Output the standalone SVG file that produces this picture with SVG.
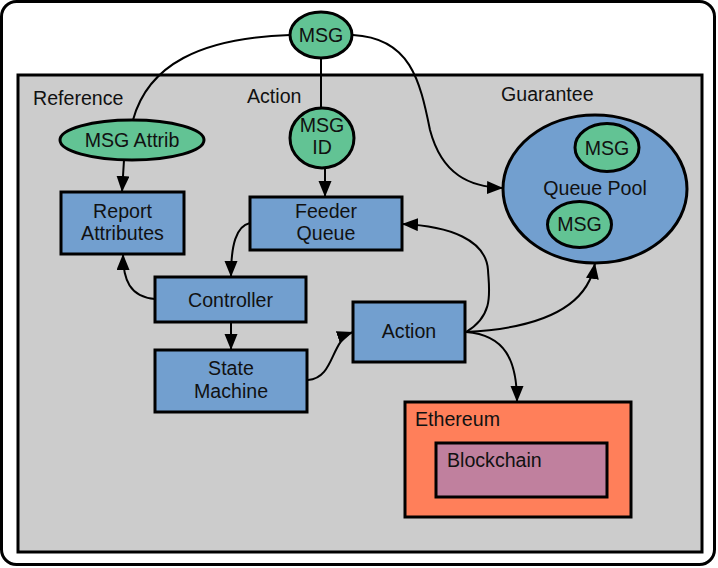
<svg xmlns="http://www.w3.org/2000/svg" width="718" height="568" viewBox="0 0 718 568">
  <defs>
    <marker id="arrow" markerUnits="userSpaceOnUse" markerWidth="18" markerHeight="14" refX="16" refY="6.5" orient="auto">
      <path d="M0,0 L16,6.5 L0,13 Z" fill="#000"/>
    </marker>
    <style>
      text { font-family: "Liberation Sans", Arial, sans-serif; font-size: 19.6px; fill: #111; }
      .mid { text-anchor: middle; }
      .box { fill: #729fcf; stroke: #000; stroke-width: 3; }
      .msg { fill: #62c394; stroke: #000; stroke-width: 3; }
      .edge { fill: none; stroke: #000; stroke-width: 2; }
      .arr { marker-end: url(#arrow); }
    </style>
  </defs>

  <!-- frame and system panel -->
  <rect x="0" y="0" width="718" height="568" fill="#fff"/>
  <rect x="1.5" y="1.5" width="713" height="563" rx="15" fill="#fff" stroke="#000" stroke-width="3"/>
  <rect x="18" y="75" width="684" height="477" fill="#cccccc" stroke="#000" stroke-width="3"/>
  <text x="33" y="105">Reference</text>
  <text x="247" y="103">Action</text>
  <text x="501" y="101">Guarantee</text>

  <!-- connectors -->
  <g id="connectors">
    <path class="edge" d="M290,35 C200,38 148,65 133,120"/>
    <path class="edge" d="M321,58 L321,108"/>
    <path class="edge arr" d="M353,35 C410,38 420,80 430,130 C442,175 470,187 503,188"/>
    <path class="edge arr" d="M124,160 L122,192"/>
    <path class="edge arr" d="M325,168 L325,197"/>
    <path class="edge arr" d="M250,223 C236,226 231,245 231,277"/>
    <path class="edge arr" d="M155,299 C130,297 123,280 123,254"/>
    <path class="edge arr" d="M231,323 L231,350"/>
    <path class="edge arr" d="M308,380 C335,378 330,340 353,332"/>
    <path class="edge arr" d="M466,332 C495,315 489,290 488,270 C486,240 450,226 402,224"/>
    <path class="edge arr" d="M466,332 C545,328 588,305 595,263"/>
    <path class="edge arr" d="M466,332 C505,335 517,360 517,402"/>
  </g>

  <g id="msg">
    <ellipse class="msg" cx="321" cy="35" rx="31" ry="23"/>
    <text class="mid" x="321" y="42">MSG</text>
  </g>

  <g id="msg-attrib">
    <ellipse class="msg" cx="132" cy="140" rx="72" ry="20"/>
    <text class="mid" x="132" y="147">MSG Attrib</text>
  </g>

  <g id="msg-id">
    <ellipse class="msg" cx="322" cy="138" rx="32" ry="30"/>
    <text class="mid" x="322" y="132">MSG</text>
    <text class="mid" x="322" y="154">ID</text>
  </g>

  <g id="report-attributes">
    <rect class="box" x="61" y="192" width="123" height="62"/>
    <text class="mid" x="122.5" y="218">Report</text>
    <text class="mid" x="122.5" y="240">Attributes</text>
  </g>

  <g id="feeder-queue">
    <rect class="box" x="250" y="197" width="152" height="53"/>
    <text class="mid" x="326" y="218">Feeder</text>
    <text class="mid" x="326" y="240">Queue</text>
  </g>

  <g id="controller">
    <rect class="box" x="155" y="277" width="151" height="45"/>
    <text class="mid" x="230.5" y="307">Controller</text>
  </g>

  <g id="state-machine">
    <rect class="box" x="155" y="350" width="152" height="62"/>
    <text class="mid" x="231" y="375">State</text>
    <text class="mid" x="231" y="398">Machine</text>
  </g>

  <g id="action">
    <rect class="box" x="353" y="302" width="112" height="60"/>
    <text class="mid" x="409" y="338">Action</text>
  </g>

  <g id="queue-pool">
    <ellipse class="box" cx="595" cy="189" rx="92" ry="74"/>
    <text class="mid" x="595" y="195">Queue Pool</text>
    <ellipse class="msg" cx="607" cy="147.5" rx="32" ry="24"/>
    <text class="mid" x="607" y="155">MSG</text>
    <ellipse class="msg" cx="579.5" cy="224.5" rx="32" ry="23"/>
    <text class="mid" x="579.5" y="231">MSG</text>
  </g>

  <g id="ethereum">
    <rect x="405" y="402" width="226" height="115" fill="#ff7f5a" stroke="#000" stroke-width="3"/>
    <text x="415" y="426">Ethereum</text>
  </g>

  <g id="blockchain">
    <rect x="436" y="443" width="171" height="54" fill="#c0809e" stroke="#000" stroke-width="3"/>
    <text x="447" y="467">Blockchain</text>
  </g>
</svg>
